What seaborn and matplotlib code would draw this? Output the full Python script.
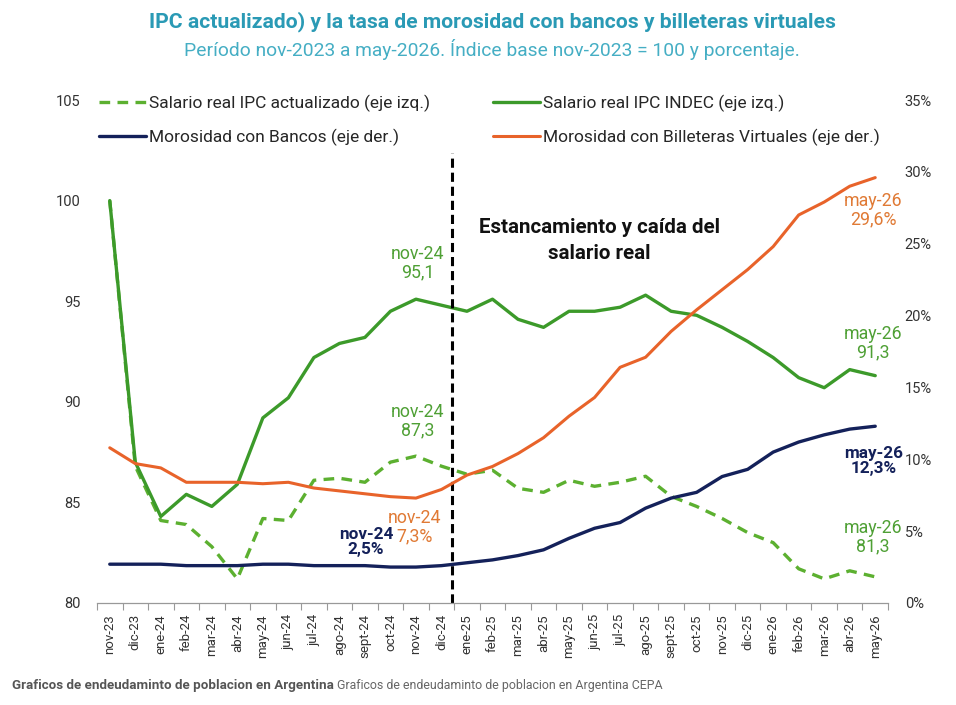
import matplotlib
matplotlib.use("Agg")
import numpy as np
import pandas as pd
import seaborn as sns
import matplotlib.pyplot as plt
from matplotlib.ticker import FuncFormatter, FixedLocator

months = ["nov-23", "dic-23", "ene-24", "feb-24", "mar-24", "abr-24", "may-24", "jun-24",
          "jul-24", "ago-24", "sept-24", "oct-24", "nov-24", "dic-24", "ene-25", "feb-25",
          "mar-25", "abr-25", "may-25", "jun-25", "jul-25", "ago-25", "sept-25", "oct-25",
          "nov-25", "dic-25", "ene-26", "feb-26", "mar-26", "abr-26", "may-26"]
salario_indec = [100.0, 87.0, 84.3, 85.4, 84.8, 85.9, 89.2, 90.2, 92.2, 92.9, 93.2, 94.5,
                 95.1, 94.8, 94.5, 95.1, 94.1, 93.7, 94.5, 94.5, 94.7, 95.3, 94.5, 94.3,
                 93.7, 93.0, 92.2, 91.2, 90.7, 91.6, 91.3]
salario_act = [100.0, 86.8, 84.1, 83.9, 82.8, 81.2, 84.2, 84.1, 86.1, 86.2, 86.0, 87.0,
               87.3, 86.8, 86.4, 86.6, 85.7, 85.5, 86.1, 85.8, 86.0, 86.3, 85.3, 84.8,
               84.2, 83.5, 83.0, 81.7, 81.2, 81.6, 81.3]
mora_bancos = [2.7, 2.7, 2.7, 2.6, 2.6, 2.6, 2.7, 2.7, 2.6, 2.6, 2.6, 2.5, 2.5, 2.6, 2.8,
               3.0, 3.3, 3.7, 4.5, 5.2, 5.6, 6.6, 7.3, 7.7, 8.8, 9.3, 10.5, 11.2, 11.7,
               12.1, 12.3]
mora_billeteras = [10.8, 9.7, 9.4, 8.4, 8.4, 8.4, 8.3, 8.4, 8.0, 7.8, 7.6, 7.4, 7.3, 7.9,
                   8.9, 9.5, 10.4, 11.5, 13.0, 14.3, 16.4, 17.1, 18.9, 20.4, 21.8, 23.2,
                   24.8, 27.0, 27.9, 29.0, 29.6]
left_ticks = [80, 85, 90, 95, 100, 105]
right_ticks = [0, 5, 10, 15, 20, 25, 30, 35]

labels = {
    "act": "Salario real IPC actualizado (eje izq.)",
    "indec": "Salario real IPC INDEC (eje izq.)",
    "bancos": "Morosidad con Bancos (eje der.)",
    "bill": "Morosidad con Billeteras Virtuales (eje der.)",
}

sns.set_style("white")
plt.rcParams["font.family"] = ["Roboto", "DejaVu Sans"]

GREEN = "#3c9a2a"
GREEN_L = "#5cb030"
GREEN_T = "#4fa035"
ORANGE = "#e8632a"
ORANGE_T = "#e07a35"
NAVY = "#14215a"

df = pd.DataFrame({
    "i": np.arange(len(months)),
    "indec": salario_indec,
    "act": salario_act,
    "bancos": mora_bancos,
    "bill": mora_billeteras,
})

fig = plt.figure(figsize=(9.56, 7.05), dpi=100)
ax = fig.add_axes([97 / 956, 1 - 603 / 705, (888 - 97) / 956, (603 - 100) / 705])
ax2 = ax.twinx()

sns.lineplot(data=df, x="i", y="act", ax=ax, color=GREEN_L, lw=2.4, label=labels["act"])
ax.lines[-1].set_dashes([3.2, 2.2])
sns.lineplot(data=df, x="i", y="indec", ax=ax, color=GREEN, lw=2.4, label=labels["indec"])
sns.lineplot(data=df, x="i", y="bill", ax=ax2, color=ORANGE, lw=2.2, label=labels["bill"])
sns.lineplot(data=df, x="i", y="bancos", ax=ax2, color=NAVY, lw=2.4, label=labels["bancos"])

for a in (ax, ax2):
    if a.get_legend() is not None:
        a.get_legend().remove()

ax.set_xlim(-0.5, len(months) - 0.5)
ax.set_ylim(80, 105)
ax2.set_ylim(0, 35)
ax.set_xlabel("")
ax.set_ylabel("")
ax2.set_ylabel("")

ax.xaxis.set_major_locator(FixedLocator(np.arange(len(months))))
ax.set_xticklabels(months, rotation=90, fontsize=9.5, color="#333333")
ax.xaxis.set_minor_locator(FixedLocator(np.arange(len(months) + 1) - 0.5))
ax.tick_params(axis="x", which="major", length=0, pad=8)
ax.tick_params(axis="x", which="minor", length=5, width=0.8, color="#999999", direction="out", bottom=True)

ax.set_yticks(left_ticks)
ax.tick_params(axis="y", length=0, labelsize=10.5, labelcolor="#333333", pad=12)
ax2.set_yticks(right_ticks)
ax2.yaxis.set_major_formatter(FuncFormatter(lambda v, p: f"{v:.0f}%"))
ax2.tick_params(axis="y", length=0, labelsize=10.5, labelcolor="#333333", pad=12)

for a in (ax, ax2):
    for s in ("top", "left", "right"):
        a.spines[s].set_visible(False)
    a.spines["bottom"].set_color("#999999")
    a.spines["bottom"].set_linewidth(0.9)
ax2.spines["bottom"].set_visible(False)

# vertical separator
ax.axvline(13.4, ymin=0, ymax=(603 - 153) / 503, color="black", lw=2.2, dashes=(3, 1.6))

# annotations
def note(x, y, txt, color, weight="normal", size=12.8):
    ax.text(x, y, txt, color=color, ha="center", va="center", fontsize=size,
            fontweight=weight, linespacing=1.0)

note(12.08, 96.9, "nov-24\n95,1", GREEN_T)
note(12.08, 89.05, "nov-24\n87,3", GREEN_T)
note(11.96, 83.78, "nov-24\n7,3%", ORANGE_T)
note(10.04, 83.03, "nov-24\n2,5%", NAVY, weight="bold", size=12.3)
note(29.92, 99.53, "may-26\n29,6%", ORANGE_T)
note(29.92, 92.92, "may-26\n91,3", GREEN_T)
note(29.92, 87.06, "may-26\n12,3%", NAVY, weight="bold", size=12.3)
note(29.92, 83.28, "may-26\n81,3", GREEN_T)
ax.text(19.2, 98.0, "Estancamiento y caída del\nsalario real", ha="center", va="center",
        fontsize=14.8, fontweight="bold", color="#111111", linespacing=1.45)

# legend
h1, l1 = ax.get_legend_handles_labels()
h2, l2 = ax2.get_legend_handles_labels()
hd = dict(zip(l1 + l2, h1 + h2))
order = [labels["act"], labels["bancos"], labels["indec"], labels["bill"]]
fig.legend([hd[k] for k in order], order, loc="upper left", ncol=2,
           bbox_to_anchor=(99 / 956, 1 - 95 / 705), frameon=False, fontsize=12.5,
           handlelength=2.7, handletextpad=0.2, columnspacing=3.6, labelspacing=0.95,
           borderaxespad=0, borderpad=0)

# titles
fig.text(0.515, 1 - 22 / 705, "IPC actualizado) y la tasa de morosidad con bancos y billeteras virtuales",
         ha="center", va="center", fontsize=15.2, fontweight="bold", color="#2a9ab5")
fig.text(0.515, 1 - 50 / 705, "Período nov-2023 a may-2026. Índice base nov-2023 = 100 y porcentaje.",
         ha="center", va="center", fontsize=13.9, color="#45aec4")

# caption
t1 = fig.text(12 / 956, 1 - 685 / 705, "Graficos de endeudaminto de poblacion en Argentina",
              ha="left", va="center", fontsize=9.6, fontweight="bold", color="#555555")
fig.canvas.draw()
bb = t1.get_window_extent()
fig.text((bb.x1 + 3) / 956, 1 - 685 / 705, "Graficos de endeudaminto de poblacion en Argentina CEPA",
         ha="left", va="center", fontsize=8.9, color="#666666")

fig.savefig("out.png", dpi=100)
